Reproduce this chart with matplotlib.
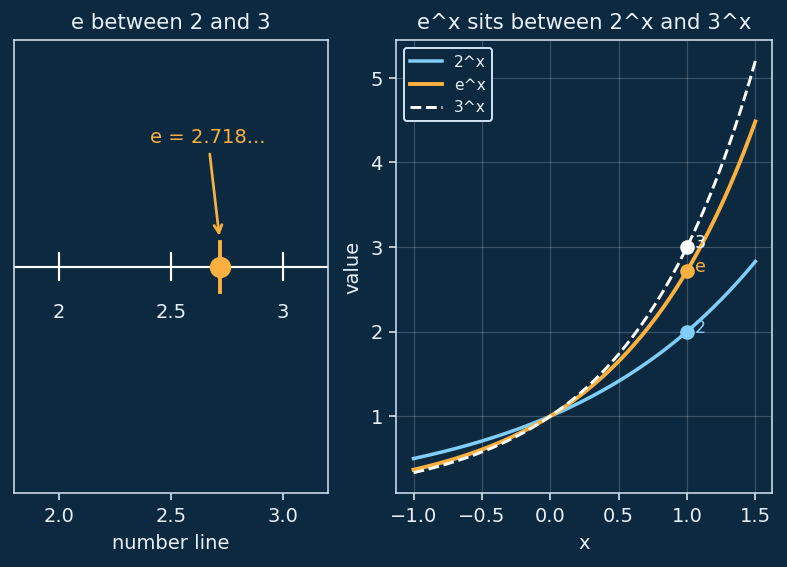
import numpy as np
import matplotlib
matplotlib.use("Agg")
import matplotlib.pyplot as plt

# number line data
line_ticks = [2, 2.5, 3]
line_tick_labels = ["2", "2.5", "3"]
e_value = np.e

# exponential curves
bases = [2, np.e, 3]
base_names = ["2^x", "e^x", "3^x"]
point_labels = ["2", "e", "3"]
x_range = [-1.0, 1.5]

BG = "#0c2940"
FG = "#e8f1fa"
SPINE = "#d2e4f4"
BLUE = "#7fcdf8"
ORANGE = "#fbb040"
WHITE = "#ffffff"
colors = [BLUE, ORANGE, WHITE]
styles = ["-", "-", "--"]
widths = [1.8, 2.0, 1.5]

plt.rcParams["text.color"] = FG
plt.rcParams["axes.labelcolor"] = FG
plt.rcParams["xtick.color"] = FG
plt.rcParams["ytick.color"] = FG

DPI = 140
fig, (ax1, ax2) = plt.subplots(1, 2, figsize=(787.4 / DPI, 567.4 / DPI), dpi=DPI,
                               gridspec_kw={"width_ratios": [1, 1.2]})
fig.patch.set_facecolor(BG)
fig.subplots_adjust(left=0.018, right=0.981, top=0.928, bottom=0.130, wspace=0.2)

for ax in (ax1, ax2):
    ax.set_facecolor(BG)
    for s in ax.spines.values():
        s.set_color(SPINE)
    ax.tick_params(colors=FG, labelsize=10)

# left: number line
ax1.axhline(0, color=WHITE, lw=1.1)
for t, lab in zip(line_ticks, line_tick_labels):
    ax1.plot([t, t], [-0.06, 0.06], color=WHITE, lw=1.1)
    ax1.text(t, -0.2, lab, ha="center", va="center", color=FG, fontsize=10)
ax1.plot([e_value, e_value], [-0.11, 0.11], color=ORANGE, lw=2.0)
ax1.plot(e_value, 0, "o", color=ORANGE, markersize=10)
ax1.annotate("e = 2.718...", xy=(e_value, 0.12), xytext=(2.665, 0.575),
             color=ORANGE, fontsize=10, ha="center", va="center",
             arrowprops=dict(arrowstyle="->", color=ORANGE, lw=1.4))
ax1.set_xlim(1.8, 3.2)
ax1.set_ylim(-1, 1)
ax1.set_yticks([])
ax1.set_xticks([2.0, 2.5, 3.0])
ax1.set_xlabel("number line", fontsize=10)
ax1.set_title("e between 2 and 3", color=FG, fontsize=11)

# right: curves
xs = np.linspace(x_range[0], x_range[1], 200)
for b, name, c, ls, lw in zip(bases, base_names, colors, styles, widths):
    ax2.plot(xs, np.power(b, xs), color=c, ls=ls, lw=lw, label=name)
for b, lab, c in zip(bases, point_labels, colors):
    ax2.plot(1, b, "o", color=c, markersize=6.5, zorder=5)
    ax2.annotate(lab, (1, b), xytext=(4, 2), textcoords="offset points",
                 color=c, fontsize=9, va="center", ha="left")

ax2.grid(True, color="#ffffff", alpha=0.2, lw=0.6)
ax2.set_xlabel("x", fontsize=10)
ax2.set_ylabel("value", fontsize=10)
ax2.set_title("e^x sits between 2^x and 3^x", color=FG, fontsize=11)
leg = ax2.legend(loc="upper left", fontsize=8, facecolor=BG, edgecolor=SPINE,
                 framealpha=1)
for t in leg.get_texts():
    t.set_color(FG)

fig.savefig("out.png", dpi=DPI, facecolor=BG)
